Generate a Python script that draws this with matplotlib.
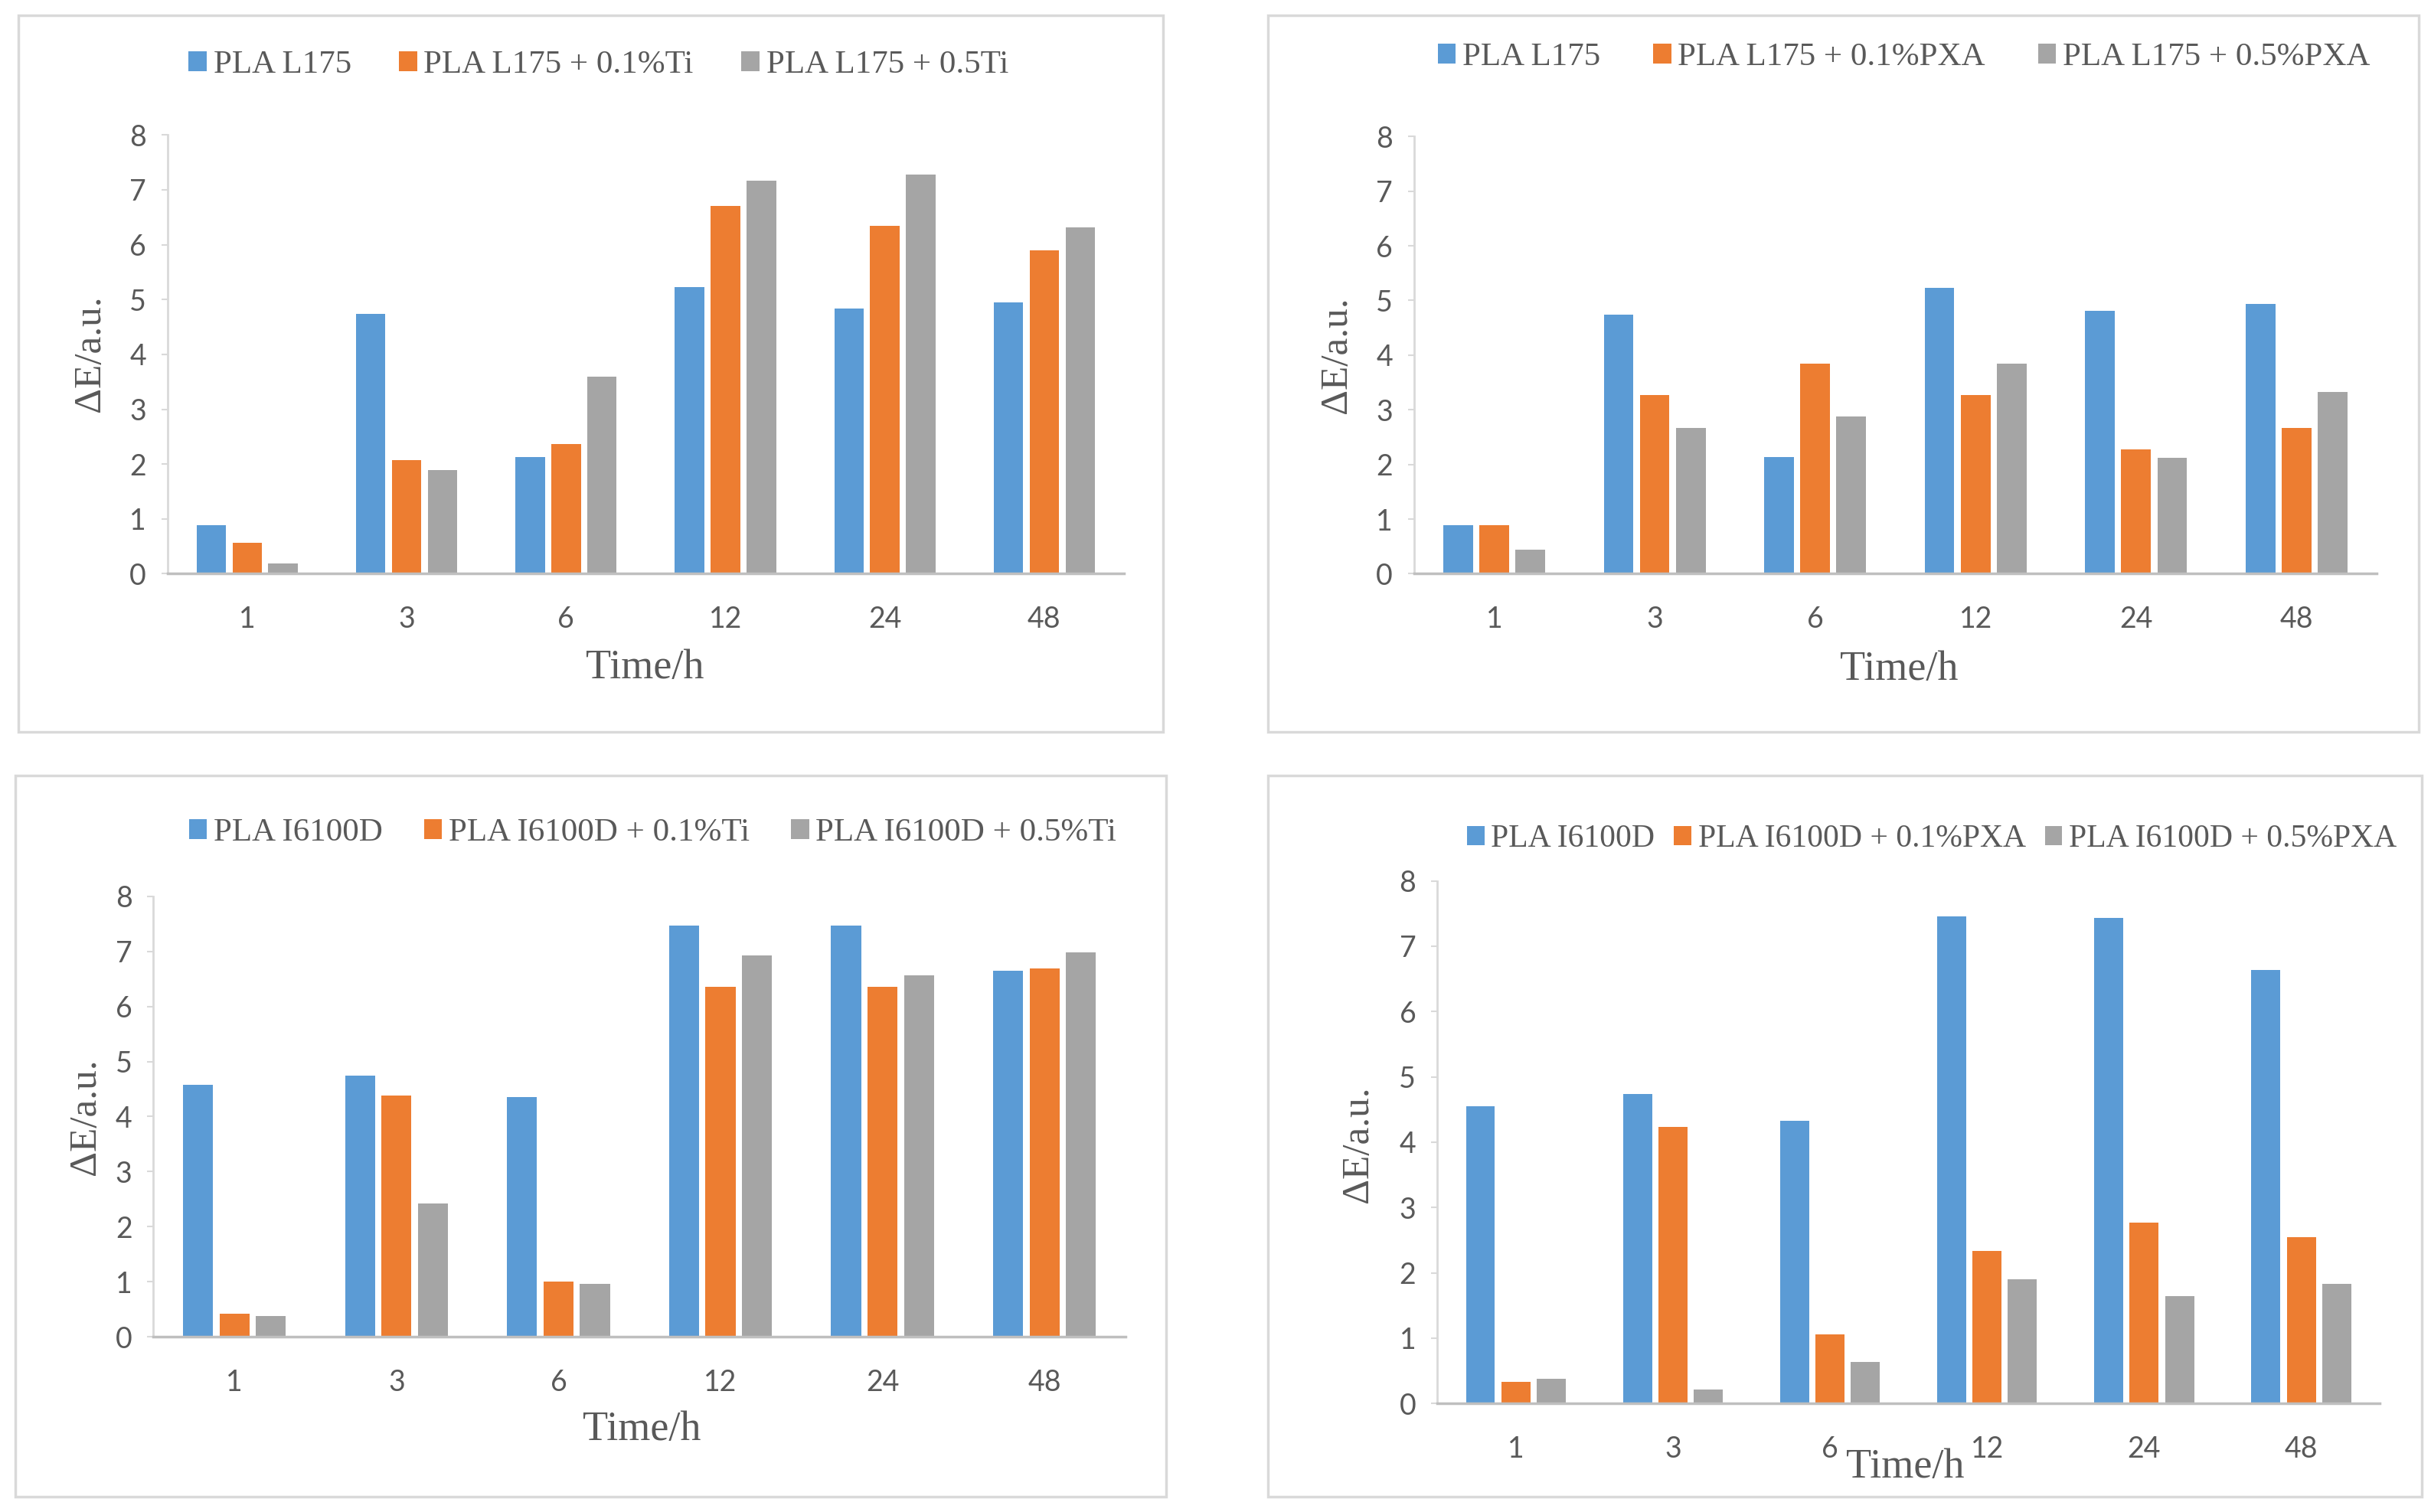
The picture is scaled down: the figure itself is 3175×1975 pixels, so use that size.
import matplotlib
matplotlib.use("Agg")
import matplotlib.pyplot as plt
from matplotlib.patches import Rectangle
import numpy as np

# ---------------- data ----------------
times = ["1", "3", "6", "12", "24", "48"]

p1_labels = ["PLA L175", "PLA L175 + 0.1%Ti", "PLA L175 + 0.5Ti"]
p1_base = [0.89, 4.74, 2.13, 5.23, 4.83, 4.95]
p1_low = [0.56, 2.07, 2.37, 6.71, 6.34, 5.89]
p1_high = [0.19, 1.89, 3.60, 7.16, 7.28, 6.31]

p2_labels = ["PLA L175", "PLA L175 + 0.1%PXA", "PLA L175 + 0.5%PXA"]
p2_base = [0.89, 4.74, 2.14, 5.23, 4.81, 4.94]
p2_low = [0.89, 3.27, 3.85, 3.27, 2.27, 2.67]
p2_high = [0.44, 2.67, 2.88, 3.85, 2.12, 3.33]

p3_labels = ["PLA I6100D", "PLA I6100D + 0.1%Ti", "PLA I6100D + 0.5%Ti"]
p3_base = [4.57, 4.74, 4.36, 7.47, 7.47, 6.65]
p3_low = [0.42, 4.38, 1.00, 6.35, 6.35, 6.69]
p3_high = [0.37, 2.42, 0.96, 6.92, 6.56, 6.98]

p4_labels = ["PLA I6100D", "PLA I6100D + 0.1%PXA", "PLA I6100D + 0.5%PXA"]
p4_base = [4.55, 4.74, 4.33, 7.45, 7.43, 6.63]
p4_low = [0.33, 4.23, 1.06, 2.33, 2.77, 2.54]
p4_high = [0.38, 0.21, 0.64, 1.90, 1.64, 1.83]

colors = ["#5B9BD5", "#ED7D31", "#A5A5A5"]

# ---------------- layout (fractions of a 1568x975 reference view) ----------------
W, H = 1568.0, 975.0
panels = [
    dict(labels=p1_labels, series=[p1_base, p1_low, p1_high],
         frame=(12, 10, 750, 472), ax=(108, 725, 87, 370),
         leg=(386, 42), cs=1.45, fs=31, xl=(416, 431), yl=(58, 228)),
    dict(labels=p2_labels, series=[p2_base, p2_low, p2_high],
         frame=(818, 10, 1560, 472), ax=(912, 1533, 88, 370),
         leg=(1228, 37), cs=1.6, fs=31, xl=(1225, 432), yl=(862, 229)),
    dict(labels=p3_labels, series=[p3_base, p3_low, p3_high],
         frame=(10, 500, 752, 965), ax=(99, 726, 578, 862),
         leg=(421, 537), cs=1.25, fs=31, xl=(414, 922), yl=(55, 720)),
    dict(labels=p4_labels, series=[p4_base, p4_low, p4_high],
         frame=(818, 500, 1562, 965), ax=(927, 1535, 568, 905),
         leg=(1246, 541), cs=0.6, fs=30, xl=(1229, 946), yl=(876, 738)),
]

serif = ["Liberation Serif", "DejaVu Serif"]
tickfont = ["Lato", "DejaVu Sans"]
txtcol = "#595959"

fig = plt.figure(figsize=(31.75, 19.75), dpi=100)

def fx(x):
    return x / W

def fy(y):
    return 1 - y / H

for p in panels:
    x0, y0, x1, y1 = p["frame"]
    fig.patches.append(Rectangle((fx(x0), fy(y1)), fx(x1) - fx(x0), fy(y0) - fy(y1),
                                 transform=fig.transFigure, fill=False,
                                 edgecolor="#D9D9D9", linewidth=2.5, zorder=0))
    l, r, t, b = p["ax"]
    ax = fig.add_axes([fx(l), fy(b), fx(r) - fx(l), fy(t) - fy(b)])
    x = np.arange(len(times))
    width = 0.185
    offs = [-0.225, 0.0, 0.225]
    handles = []
    for s, vals in enumerate(p["series"]):
        h = ax.bar(x + offs[s], vals, width, color=colors[s], label=p["labels"][s], zorder=2)
        handles.append(h)
    ax.set_xlim(-0.5, len(times) - 0.5)
    ax.set_ylim(0, 8)
    ax.set_yticks(range(0, 9))
    ax.set_xticks(x)
    ax.set_xticklabels(times)
    for sp in ["top", "right"]:
        ax.spines[sp].set_visible(False)
    ax.spines["left"].set_color("#D9D9D9")
    ax.spines["left"].set_linewidth(2)
    ax.spines["bottom"].set_color("#BFBFBF")
    ax.spines["bottom"].set_linewidth(2.5)
    ax.tick_params(axis="y", length=6, width=1.5, color="#D9D9D9", pad=14,
                   labelsize=27, labelcolor=txtcol)
    ax.tick_params(axis="x", length=0, pad=30, labelsize=27, labelcolor=txtcol)
    for lab in ax.get_xticklabels() + ax.get_yticklabels():
        lab.set_family(tickfont)
    fig.text(fx(p["xl"][0]), fy(p["xl"][1]), "Time/h", ha="center", va="center",
             fontsize=39, color=txtcol, family=serif)
    fig.text(fx(p["yl"][0]), fy(p["yl"][1]), "ΔE/a.u.", ha="center", va="center",
             rotation=90, fontsize=37, color=txtcol, family=serif)
    fig.legend(handles=handles, labels=p["labels"], loc="center",
               bbox_to_anchor=(fx(p["leg"][0]), fy(p["leg"][1])),
               ncol=3, frameon=False, handlelength=0.55, handleheight=0.55,
               handletextpad=0.2, columnspacing=p["cs"],
               prop=dict(family=serif, size=p["fs"]), labelcolor=txtcol)

fig.savefig("out.png", dpi=100, facecolor="white")
